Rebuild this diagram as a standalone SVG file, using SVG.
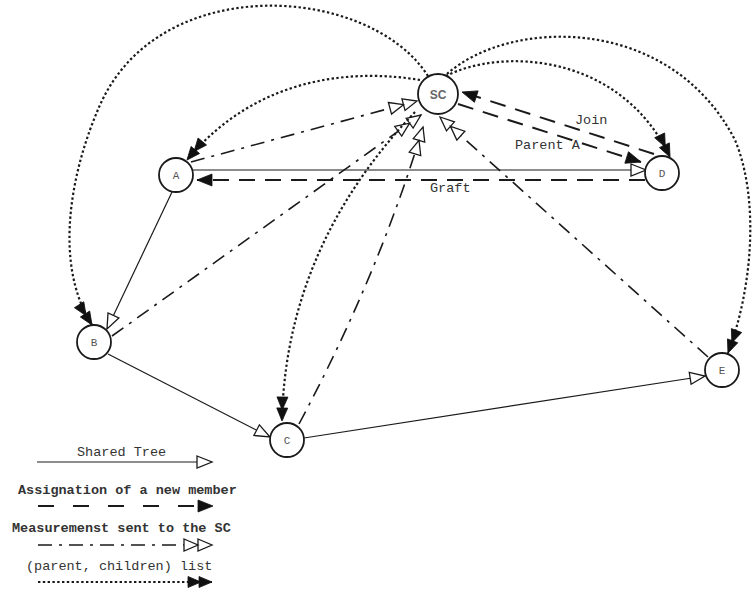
<svg xmlns="http://www.w3.org/2000/svg" width="753" height="616" viewBox="0 0 753 616">
  <style>
    .node circle { fill: #fff; stroke: #1a1a1a; stroke-width: 1.8; }
    .node text { font-family: "Liberation Mono", "DejaVu Sans Mono", monospace; font-size: 11px; fill: #555; text-anchor: middle; dominant-baseline: central; }
    .node text.sc { font-family: "Liberation Sans", Arial, sans-serif; font-weight: bold; font-size: 12px; fill: #666; }
    .edge { fill: none; stroke: #1a1a1a; }
    .tree { stroke-width: 1.2; }
    .assign { stroke-width: 2; stroke-dasharray: 16 10; }
    .measure { stroke-width: 1.6; stroke-dasharray: 14 7 3 7; }
    .list { stroke-width: 2.2; stroke-dasharray: 2.4 2.4; }
    .lbl { font-family: "Liberation Mono", "Courier New", monospace; font-size: 13.5px; fill: #333; }
    .lbl.b { font-weight: bold; }
    .head-open { fill: #fff; stroke: #1a1a1a; stroke-width: 1.3; stroke-dasharray: none; }
    .head-fill { fill: #111; stroke: #111; stroke-width: 0.8; stroke-dasharray: none; }
  </style>
  <defs>
    <marker id="open" markerUnits="userSpaceOnUse" orient="auto" markerWidth="18" markerHeight="16" refX="15" refY="6" overflow="visible">
      <path class="head-open" d="M0,0 L15,6 L0,12 Z"/>
    </marker>
    <marker id="fill" markerUnits="userSpaceOnUse" orient="auto" markerWidth="18" markerHeight="16" refX="15" refY="6" overflow="visible">
      <path class="head-fill" d="M0,0 L15,6 L0,12 Z"/>
    </marker>
    <marker id="dblfill" markerUnits="userSpaceOnUse" orient="auto" markerWidth="26" markerHeight="14" refX="24" refY="5.5" overflow="visible">
      <path class="head-fill" d="M0,0 L13,5.5 L0,11 Z M11,0 L24,5.5 L11,11 Z"/>
    </marker>
    <marker id="dblopen" markerUnits="userSpaceOnUse" orient="auto" markerWidth="32" markerHeight="16" refX="28" refY="6" overflow="visible">
      <path class="head-open" d="M0,0 L14,6 L0,12 Z M14,0 L28,6 L14,12 Z"/>
    </marker>
  </defs>

  <rect width="753" height="616" fill="#fff"/>

  <g id="connectors">
    <!-- shared tree -->
    <path class="edge tree" d="M193,170 L646,170" marker-end="url(#open)"/>
    <path class="edge tree" d="M172,192 L107,329" marker-end="url(#open)"/>
    <path class="edge tree" d="M108,354 L270,437" marker-end="url(#open)"/>
    <path class="edge tree" d="M304,438 L705,376" marker-end="url(#open)"/>

    <!-- assignation of a new member -->
    <path class="edge assign" d="M654,154 L462,92" marker-end="url(#fill)"/>
    <path class="edge assign" d="M458,104 L641,162" marker-end="url(#fill)"/>
    <path class="edge assign" d="M645,180 L197,180" marker-end="url(#fill)"/>

    <!-- measurements sent to the SC -->
    <path class="edge measure" d="M191,162 L417,101" marker-end="url(#dblopen)"/>
    <path class="edge measure" d="M112,336 L421,115" marker-end="url(#dblopen)"/>
    <path class="edge measure" d="M299,424 Q379,274 423,127" marker-end="url(#dblopen)"/>
    <path class="edge measure" d="M708,357 L440,117" marker-end="url(#dblopen)"/>

    <!-- (parent, children) list -->
    <path class="edge list" d="M428,76 C370,-15 160,-30 100,105 C72,168 52,262 92,325" marker-end="url(#dblfill)"/>
    <path class="edge list" d="M420,80 C360,70 260,72 187,160" marker-end="url(#dblfill)"/>
    <path class="edge list" d="M446,76 C500,48 620,52 670,157" marker-end="url(#dblfill)"/>
    <path class="edge list" d="M447,74 C510,18 670,14 735,140 C760,200 752,290 728,353" marker-end="url(#dblfill)"/>
    <path class="edge list" d="M415,112 C360,170 285,270 282,421" marker-end="url(#dblfill)"/>

    <text class="lbl" x="575" y="124">Join</text>
    <text class="lbl" x="515" y="149">Parent A</text>
    <text class="lbl" x="430" y="192">Graft</text>
  </g>

  <g id="node-SC" class="node"><circle cx="438" cy="94" r="20"/><text class="sc" x="438" y="95">SC</text></g>
  <g id="node-A" class="node"><circle cx="176" cy="175" r="17"/><text x="176" y="176">A</text></g>
  <g id="node-D" class="node"><circle cx="662" cy="173" r="17"/><text x="662" y="174">D</text></g>
  <g id="node-B" class="node"><circle cx="94" cy="342" r="17"/><text x="94" y="343">B</text></g>
  <g id="node-C" class="node"><circle cx="287" cy="440" r="17"/><text x="287" y="441">C</text></g>
  <g id="node-E" class="node"><circle cx="722" cy="370" r="17"/><text x="722" y="371">E</text></g>

  <g id="legend">
    <text class="lbl" x="77" y="456">Shared Tree</text>
    <path class="edge tree" d="M37,462 L212,462" marker-end="url(#open)"/>
    <text class="lbl b" x="18" y="494">Assignation of a new member</text>
    <path class="edge assign" d="M38,506 L213,506" style="stroke-dasharray:16 19" marker-end="url(#fill)"/>
    <text class="lbl b" x="12" y="532">Measuremenst sent to the SC</text>
    <path class="edge measure" d="M38,545 L212,545" marker-end="url(#dblopen)"/>
    <text class="lbl" x="26" y="570">(parent, children) list</text>
    <path class="edge list" d="M38,582 L212,582" marker-end="url(#dblfill)"/>
  </g>
</svg>
